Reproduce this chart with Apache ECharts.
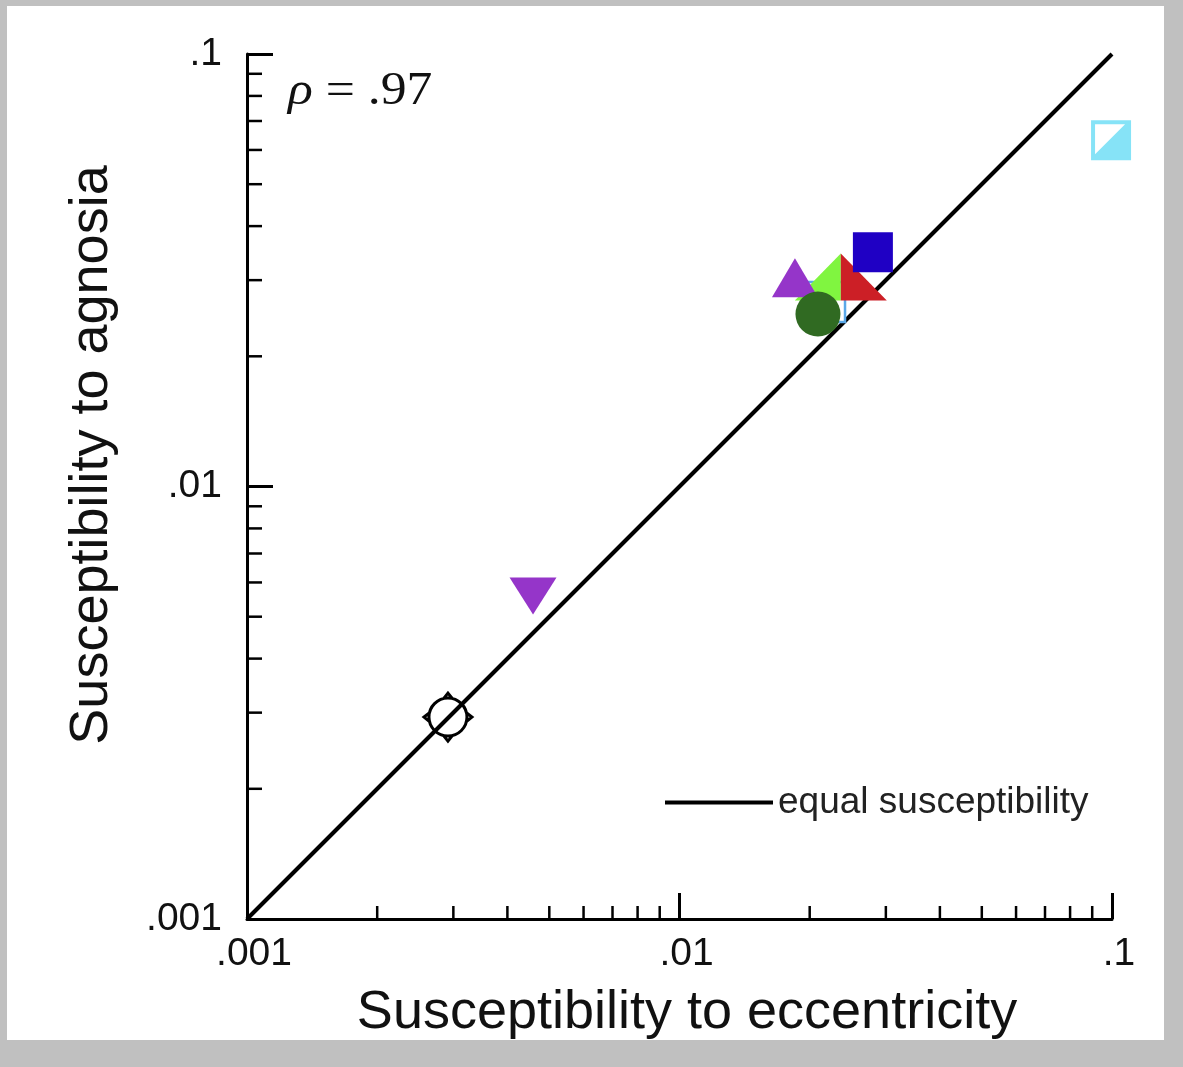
<!DOCTYPE html>
<html><head><meta charset="utf-8">
<script src="https://cdn.jsdelivr.net/npm/echarts@6/dist/echarts.min.js"></script>
<style>
html,body{margin:0;padding:0;background:#c0c0c0;width:1183px;height:1067px;overflow:hidden}
#frame{position:absolute;left:7px;top:6px;width:1157px;height:1034px;background:#fff}
#chart{position:absolute;left:0;top:0;width:1183px;height:1067px}
</style></head><body><div id="frame"></div><div id="chart"></div>
<script>
// ---- data ----
const axisTickLabels = ['.001', '.01', '.1'];
const minorTickValues = [0.002,0.003,0.004,0.005,0.006,0.007,0.008,0.009,0.02,0.03,0.04,0.05,0.06,0.07,0.08,0.09];
const equalLine = [[0.001, 0.001], [0.1, 0.1]];
const lightBlueSquare = [[0.0217, 0.0267]];
const greenHalfTriangle = [[0.0236, 0.0305]];
const redHalfTriangle = [[0.0236, 0.0305]];
const blueSquare = [[0.0280, 0.0348]];
const purpleUpTriangle = [[0.01849, 0.0304]];
const greenCircle = [[0.0209, 0.02505]];
const purpleDownTriangle = [[0.004585, 0.00558]];
const openCircle = [[0.002915, 0.00293]];
const cyanHalfSquare = [[0.0995, 0.0632]];
const xTitle = 'Susceptibility to eccentricity';
const yTitle = 'Susceptibility to agnosia';
const lineName = 'equal susceptibility';

const AXMIN = 0.001, AXMAX = 0.1;
const SANS = 'Liberation Sans, Arial, Helvetica, sans-serif';
const SERIF = 'Liberation Serif, Times New Roman, serif';
const lbl = v => axisTickLabels[Math.round(Math.log10(v)) + 3];

const chart = echarts.init(document.getElementById('chart'), null, {renderer: 'canvas'});

function minorX(params, api) {
  const p = api.coord([api.value(0), api.value(1)]);
  return {type: 'line', shape: {x1: p[0], y1: p[1], x2: p[0], y2: p[1] - 13}, style: {stroke: '#000', lineWidth: 2.5}};
}
function minorY(params, api) {
  const p = api.coord([api.value(0), api.value(1)]);
  return {type: 'line', shape: {x1: p[0], y1: p[1], x2: p[0] + 15, y2: p[1]}, style: {stroke: '#000', lineWidth: 2.5}};
}

const openCirclePath = 'path://M0,-19 A19,19 0 1 1 0,19 A19,19 0 1 1 0,-19 Z M-4,-19 L0,-24 L4,-19 Z M19,-4 L24,0 L19,4 Z M-4,19 L0,24 L4,19 Z M-19,-4 L-24,0 L-19,4 Z';
const solid = c => ({color: c, opacity: 1});

const option = {
  animation: false,
  backgroundColor: 'transparent',
  grid: {left: 247, right: 71, top: 54, bottom: 148},
  xAxis: {
    type: 'log', logBase: 10, min: AXMIN, max: AXMAX, interval: 1,
    axisLine: {lineStyle: {color: '#000', width: 3}},
    axisTick: {inside: true, length: 26, lineStyle: {color: '#000', width: 3}},
    axisLabel: {formatter: lbl, fontFamily: SANS, fontSize: 39, color: '#111', margin: 16, padding: [0, 0, 0, 14]},
    splitLine: {show: false}
  },
  yAxis: {
    type: 'log', logBase: 10, min: AXMIN, max: AXMAX, interval: 1,
    axisLine: {lineStyle: {color: '#000', width: 3}},
    axisTick: {inside: true, length: 26, lineStyle: {color: '#000', width: 3}},
    axisLabel: {formatter: lbl, fontFamily: SANS, fontSize: 39, color: '#111', margin: 25, padding: [0, 0, 8, 0]},
    splitLine: {show: false}
  },
  legend: {
    data: [lineName], left: 665, top: 784, padding: 0,
    icon: 'rect', itemWidth: 108, itemHeight: 4,
    textStyle: {fontFamily: SANS, fontSize: 37, color: '#222'}
  },
  graphic: [
    {type: 'text', x: 288, y: 92, scaleX: 1.1, style: {
      text: '{i|ρ} = .97', fontFamily: SERIF, fontSize: 47, fill: '#111',
      align: 'left', verticalAlign: 'middle',
      rich: {i: {fontStyle: 'italic', fontFamily: SERIF, fontSize: 47}}
    }},
    {type: 'text', x: 687, y: 1013, style: {text: xTitle, fontFamily: SANS, fontSize: 54, fill: '#111', align: 'center', verticalAlign: 'middle'}},
    {type: 'text', x: 92, y: 455, rotation: Math.PI / 2, style: {text: yTitle, fontFamily: SANS, fontSize: 54, fill: '#111', align: 'center', verticalAlign: 'middle'}}
  ],
  series: [
    {type: 'custom', name: 'minorX', renderItem: minorX, data: minorTickValues.map(v => [v, AXMIN]), clip: false, silent: true, z: 3},
    {type: 'custom', name: 'minorY', renderItem: minorY, data: minorTickValues.map(v => [AXMIN, v]), clip: false, silent: true, z: 3},
    {type: 'line', name: lineName, data: equalLine, symbol: 'none', lineStyle: {color: '#000', width: 4}, itemStyle: {color: '#000'}, z: 2},
    {type: 'scatter', data: lightBlueSquare, symbol: 'rect', symbolSize: 40, itemStyle: {color: '#fff', opacity: 1, borderColor: '#5aa8e8', borderWidth: 2.5}, z: 4},
    {type: 'scatter', data: greenHalfTriangle, symbol: 'path://M1,0 L1,1 L0,1 Z', symbolSize: [46, 47], symbolOffset: [-23, 0], itemStyle: solid('#80f540'), z: 5},
    {type: 'scatter', data: redHalfTriangle, symbol: 'path://M0,0 L1,1 L0,1 Z', symbolSize: [46, 47], symbolOffset: [23, 0], itemStyle: solid('#cc1f26'), z: 5},
    {type: 'scatter', data: blueSquare, symbol: 'rect', symbolSize: 40, itemStyle: solid('#1f00c4'), z: 6},
    {type: 'scatter', data: purpleUpTriangle, symbol: 'triangle', symbolSize: [46, 39], itemStyle: solid('#9535c9'), z: 6},
    {type: 'scatter', data: greenCircle, symbol: 'circle', symbolSize: 45, itemStyle: solid('#306a22'), z: 7},
    {type: 'scatter', data: purpleDownTriangle, symbol: 'triangle', symbolRotate: 180, symbolSize: [47, 37], itemStyle: solid('#9535c9'), z: 6},
    {type: 'scatter', data: openCircle, symbol: openCirclePath, symbolSize: 48, itemStyle: {color: 'rgba(0,0,0,0)', opacity: 1, borderColor: '#000', borderWidth: 3}, z: 6},
    {type: 'scatter', data: cyanHalfSquare, symbol: 'rect', symbolSize: 40, itemStyle: solid('#86e3f7'), z: 6},
    {type: 'scatter', data: cyanHalfSquare, symbol: 'path://M0,0 L1,0 L0,1 Z', symbolSize: 30, symbolOffset: [-1, -1], itemStyle: solid('#fff'), z: 7}
  ]
};
chart.setOption(option);
</script></body></html>
